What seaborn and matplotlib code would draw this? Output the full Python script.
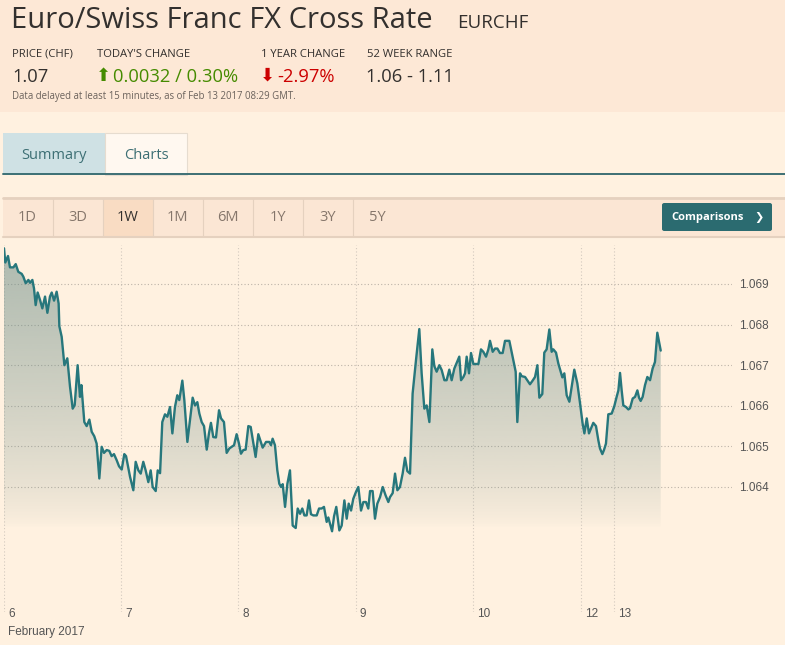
import numpy as np
import matplotlib
matplotlib.use('Agg')
import matplotlib.pyplot as plt
import matplotlib.transforms as mtransforms
from matplotlib.patches import Rectangle, FancyBboxPatch
import seaborn as sns

# ---------------- data ----------------
# x: trading-day offset from 6 Feb 2017 (chart time axis), y: EUR/CHF rate
days = [
    0.000, 0.011, 0.034, 0.051, 0.080, 0.100, 0.122, 0.151, 0.165, 0.185, 0.208, 0.222, 0.242, 0.256,
    0.270, 0.287, 0.307, 0.327, 0.350, 0.370, 0.392, 0.407, 0.427, 0.449, 0.466, 0.472, 0.492, 0.515,
    0.540, 0.563, 0.586, 0.603, 0.628, 0.648, 0.660, 0.685, 0.705, 0.728, 0.748, 0.770, 0.790, 0.813,
    0.833, 0.853, 0.876, 0.898, 0.918, 0.938, 0.961, 0.981, 1.004, 1.026, 1.041, 1.060,
    1.075, 1.103, 1.123, 1.146, 1.166, 1.188, 1.208, 1.231, 1.251, 1.268, 1.294, 1.311, 1.331, 1.350,
    1.373, 1.393, 1.416, 1.436, 1.458, 1.478, 1.495, 1.521, 1.538, 1.564, 1.586, 1.609, 1.629, 1.649,
    1.666, 1.686, 1.706, 1.729, 1.748, 1.765, 1.785, 1.808, 1.834, 1.851, 1.876, 1.899, 1.922, 1.942,
    1.962, 1.984, 2.004, 2.021, 2.041, 2.061, 2.084, 2.104, 2.127, 2.146, 2.169,
    2.206, 2.235, 2.263, 2.277, 2.291, 2.311, 2.331, 2.348, 2.363, 2.377, 2.397, 2.417, 2.439, 2.462,
    2.488, 2.505, 2.525, 2.544, 2.562, 2.581, 2.601, 2.618, 2.638, 2.667, 2.687, 2.709, 2.729, 2.752,
    2.766, 2.780, 2.798, 2.815, 2.834, 2.860, 2.880, 2.903, 2.923, 2.940, 2.960, 2.979, 3.002, 3.022,
    3.045, 3.065, 3.087, 3.107, 3.122, 3.144, 3.164, 3.184, 3.207, 3.230, 3.255, 3.278,
    3.292, 3.315, 3.335, 3.355, 3.377, 3.400, 3.420, 3.440, 3.463, 3.485, 3.514, 3.542, 3.562, 3.585,
    3.605, 3.628, 3.653, 3.670, 3.690, 3.713, 3.733, 3.756, 3.775, 3.798, 3.818, 3.841, 3.861, 3.883,
    3.898, 3.918, 3.932, 3.946, 3.966, 3.983, 4.003, 4.026, 4.046, 4.068, 4.088, 4.111, 4.131, 4.145,
    4.168, 4.188, 4.208, 4.230, 4.253, 4.273, 4.310, 4.338, 4.364, 4.378,
    4.401, 4.415, 4.444, 4.463, 4.486, 4.506, 4.529, 4.549, 4.566, 4.591, 4.608, 4.628, 4.651, 4.671,
    4.685, 4.708, 4.728, 4.748, 4.762, 4.779, 4.799, 4.822, 4.842, 4.864, 4.890, 4.913, 4.935, 4.950,
    4.970, 4.989, 5.006, 5.026, 5.049, 5.069, 5.083, 5.103, 5.117, 5.134, 5.154, 5.183, 5.205, 5.225,
    5.240, 5.254, 5.268, 5.282, 5.305, 5.325, 5.339, 5.362, 5.382, 5.402, 5.416, 5.430, 5.447, 5.467,
    5.487, 5.510, 5.532, 5.552, 5.572, 5.589, 5.601,
]
rates = [
    1.06988, 1.06953, 1.06969, 1.06941, 1.06941, 1.06949, 1.06930, 1.06925, 1.06918, 1.06902, 1.06910, 1.06903, 1.06910, 1.06889,
    1.06848, 1.06879, 1.06861, 1.06840, 1.06869, 1.06829, 1.06869, 1.06879, 1.06859, 1.06881, 1.06852, 1.06796, 1.06770, 1.06700,
    1.06717, 1.06647, 1.06593, 1.06602, 1.06700, 1.06622, 1.06651, 1.06560, 1.06550, 1.06566, 1.06536, 1.06525, 1.06507, 1.06421,
    1.06499, 1.06484, 1.06491, 1.06489, 1.06476, 1.06481, 1.06466, 1.06451, 1.06443, 1.06481, 1.06476, 1.06448,
    1.06425, 1.06392, 1.06462, 1.06441, 1.06433, 1.06462, 1.06441, 1.06412, 1.06441, 1.06400, 1.06390, 1.06441, 1.06434, 1.06560,
    1.06579, 1.06573, 1.06597, 1.06532, 1.06597, 1.06626, 1.06614, 1.06662, 1.06614, 1.06511, 1.06564, 1.06620, 1.06601, 1.06609,
    1.06581, 1.06560, 1.06550, 1.06492, 1.06532, 1.06558, 1.06523, 1.06522, 1.06589, 1.06569, 1.06560, 1.06484, 1.06495, 1.06499,
    1.06503, 1.06530, 1.06507, 1.06482, 1.06491, 1.06492, 1.06550, 1.06548, 1.06507, 1.06474, 1.06530,
    1.06497, 1.06511, 1.06511, 1.06503, 1.06519, 1.06503, 1.06441, 1.06408, 1.06400, 1.06407, 1.06351, 1.06408, 1.06441, 1.06305,
    1.06299, 1.06347, 1.06334, 1.06347, 1.06330, 1.06330, 1.06367, 1.06333, 1.06330, 1.06330, 1.06347, 1.06347, 1.06351, 1.06314,
    1.06325, 1.06310, 1.06291, 1.06328, 1.06351, 1.06293, 1.06305, 1.06367, 1.06322, 1.06359, 1.06342, 1.06371, 1.06388, 1.06400,
    1.06342, 1.06363, 1.06363, 1.06347, 1.06390, 1.06390, 1.06322, 1.06359, 1.06375, 1.06400, 1.06379, 1.06363,
    1.06375, 1.06385, 1.06433, 1.06392, 1.06400, 1.06433, 1.06472, 1.06439, 1.06433, 1.06630, 1.06713, 1.06789, 1.06680, 1.06593,
    1.06601, 1.06560, 1.06739, 1.06698, 1.06684, 1.06700, 1.06688, 1.06663, 1.06663, 1.06689, 1.06663, 1.06692, 1.06706, 1.06721,
    1.06663, 1.06671, 1.06680, 1.06721, 1.06680, 1.06730, 1.06703, 1.06703, 1.06703, 1.06739, 1.06733, 1.06721, 1.06739, 1.06760,
    1.06733, 1.06741, 1.06741, 1.06730, 1.06730, 1.06760, 1.06760, 1.06721, 1.06684, 1.06560,
    1.06680, 1.06673, 1.06671, 1.06663, 1.06653, 1.06661, 1.06671, 1.06700, 1.06620, 1.06629, 1.06731, 1.06739, 1.06788, 1.06733,
    1.06739, 1.06731, 1.06704, 1.06684, 1.06670, 1.06680, 1.06626, 1.06610, 1.06647, 1.06689, 1.06655, 1.06606, 1.06556, 1.06532,
    1.06569, 1.06532, 1.06544, 1.06558, 1.06550, 1.06515, 1.06495, 1.06481, 1.06491, 1.06507, 1.06579, 1.06581, 1.06599, 1.06622,
    1.06638, 1.06681, 1.06638, 1.06601, 1.06597, 1.06591, 1.06594, 1.06618, 1.06622, 1.06638, 1.06620, 1.06612, 1.06622, 1.06651,
    1.06671, 1.06663, 1.06692, 1.06708, 1.06780, 1.06754, 1.06736,
]
day_ticks = [0, 1, 2, 3, 4, 4.921, 5.203]
day_labels = ['6', '7', '8', '9', '10', '12', '13']
y_ticks = [1.064, 1.065, 1.066, 1.067, 1.068, 1.069]
range_labels = ['1D', '3D', '1W', '1M', '6M', '1Y', '3Y', '5Y']
header_labels = ['PRICE (CHF)', "TODAY'S CHANGE", '1 YEAR CHANGE', '52 WEEK RANGE']

# ---------------- styling ----------------
W, H = 785, 645
BG = '#fff1e0'
HEADER_BG = '#fde8d6'
TEXT = '#33302e'
TEAL = '#27777c'

sns.set_style('white')
plt.rcParams['font.family'] = ['Open Sans', 'DejaVu Sans']

fig = plt.figure(figsize=(W / 100, H / 100), dpi=100, facecolor=BG)


def fx(x):
    return x / W


def fy(y):
    return 1 - y / H


def rect(x0, y0, x1, y1, color, z=0, **kw):
    fig.add_artist(Rectangle((fx(x0), fy(y1)), fx(x1) - fx(x0), fy(y0) - fy(y1),
                             transform=fig.transFigure, facecolor=color,
                             edgecolor=kw.pop('ec', 'none'), zorder=z, **kw))


def hline(x0, x1, y, color, lw):
    fig.add_artist(plt.Line2D([fx(x0), fx(x1)], [fy(y), fy(y)], transform=fig.transFigure,
                              color=color, linewidth=lw))


def vline(x, y0, y1, color, lw):
    fig.add_artist(plt.Line2D([fx(x), fx(x)], [fy(y0), fy(y1)], transform=fig.transFigure,
                              color=color, linewidth=lw))


# header block
rect(0, 0, W, 112, HEADER_BG)
fig.text(fx(11), fy(28), 'Euro/Swiss Franc FX Cross Rate', fontsize=21, color=TEXT, va='baseline')
fig.text(fx(457), fy(28), 'EURCHF', fontsize=13.5, color=TEXT, va='baseline')
for lab, x in zip(header_labels, [12, 97, 261, 367]):
    fig.text(fx(x), fy(57), lab, fontsize=8.1, color=TEXT, va='baseline')
fig.text(fx(12), fy(82), '1.07', fontsize=13.2, color=TEXT, va='baseline')
fig.text(fx(96), fy(81), '⬆', fontsize=13, color='#458b00', va='baseline', family=['DejaVu Sans'])
fig.text(fx(113), fy(82), '0.0032 / 0.30%', fontsize=13.2, color='#458b00', va='baseline')
fig.text(fx(260), fy(81), '⬇', fontsize=13, color='#cc0000', va='baseline', family=['DejaVu Sans'])
fig.text(fx(277), fy(82), '-2.97%', fontsize=13.2, color='#cc0000', va='baseline')
fig.text(fx(366), fy(82), '1.06 - 1.11', fontsize=13.2, color=TEXT, va='baseline')
fig.text(fx(12), fy(99), 'Data delayed at least 15 minutes, as of Feb 13 2017 08:29 GMT.',
         fontsize=6.9, color='#6b625c', va='baseline')

# tabs
rect(3, 133, 105, 175, '#cfe1e4')
rect(105, 133, 187, 175, '#fff8f0', ec='#e6dccf', lw=0.8)
hline(3, W, 174.5, '#3d6f74', 1.4)
fig.text(fx(54), fy(156), 'Summary', fontsize=10.5, color='#3d6f74', ha='center', va='center')
fig.text(fx(146), fy(156), 'Charts', fontsize=10.5, color='#3d6f74', ha='center', va='center')

# range bar
rect(3, 197, W, 237, '#fbe6d4')
rect(103, 198, 153, 236, '#f9dcc3')
hline(3, W, 197.5, '#e5d1bf', 2)
hline(3, W, 236.5, '#e5d1bf', 1.5)
for x in [52.5, 103, 153, 203, 253, 303, 353]:
    vline(x, 198, 236, '#e5d1bf', 0.8)
for i, lab in enumerate(range_labels):
    fig.text(fx(27.5 + 50 * i), fy(217), lab, fontsize=10.5, ha='center', va='center',
             color=TEXT if lab == '1W' else '#85766b')
fig.add_artist(FancyBboxPatch((fx(662), fy(231)), fx(772) - fx(662), fy(203) - fy(231),
                              boxstyle='round,pad=0,rounding_size=0.003', transform=fig.transFigure,
                              facecolor='#2b6b70', edgecolor='none'))
fig.text(fx(708), fy(217), 'Comparisons', fontsize=8, color='white', weight='bold',
         ha='center', va='center')
fig.text(fx(759), fy(217), '❯', fontsize=8, color='white', ha='center', va='center',
         family=['DejaVu Sans'])

# ---------------- chart ----------------
PX_PER_UNIT = 40.6 / 0.001  # vertical scale (pixels per rate unit)
Y_TOP = 1.069 + (284 - 245) / PX_PER_UNIT
Y_BOT = 1.069 - (612 - 284) / PX_PER_UNIT
X_MAX = (732 - 4) / 117.25
FILL_BASE = 1.063

ax = fig.add_axes([fx(4), fy(612), fx(732) - fx(4), fy(245) - fy(612)])
ax.set_facecolor('none')

poly = ax.fill_between(days, rates, FILL_BASE, facecolor='none', edgecolor='none')
path = poly.get_paths()[0]
n = 300
t = np.linspace(1, 0, n)
grad = np.zeros((n, 1, 4))
grad[..., 0] = 107 / 255
grad[..., 1] = 140 / 255
grad[..., 2] = 135 / 255
grad[..., 3] = (0.55 * t ** 0.7)[:, None]
im = ax.imshow(grad, extent=[0, max(days), FILL_BASE, Y_TOP], aspect='auto', origin='upper',
               interpolation='bilinear', zorder=2)
im.set_clip_path(path, transform=ax.transData)

sns.lineplot(x=days, y=rates, ax=ax, color=TEAL, linewidth=1.7, zorder=3)

ax.set_xlim(0, X_MAX)
ax.set_ylim(Y_BOT, Y_TOP)
for s in ax.spines.values():
    s.set_visible(False)

ax.set_xticks(day_ticks)
ax.set_yticks(y_ticks)
ax.yaxis.tick_right()
ax.set_yticklabels([f'{v:.3f}' for v in y_ticks])
ax.tick_params(axis='x', length=0, labelbottom=False)
ax.tick_params(axis='y', length=0, pad=5, labelsize=8.5, labelcolor='#555555')
for lbl in ax.get_yticklabels():
    lbl.set_family(['Liberation Sans'])
ax.grid(axis='y', color='#bdb3a8', linestyle=(0, (1, 2)), linewidth=0.8)
ax.grid(axis='x', color='#d3c9be', linestyle=(0, (1, 2)), linewidth=0.8)
ax.set_axisbelow(True)

trans = mtransforms.blended_transform_factory(ax.transData, ax.transAxes)
trans_off = mtransforms.offset_copy(trans, fig=fig, x=4, y=0, units='dots')
for d, lab in zip(day_ticks, day_labels):
    ax.text(d, -2 / 367, lab, transform=trans_off, fontsize=8.5, color='#555555',
            va='center', ha='left', family=['Liberation Sans'])
ax.text(0, -20 / 367, 'February 2017', transform=trans_off, fontsize=8.5, color='#555555',
        va='center', ha='left', family=['Liberation Sans'])

fig.savefig('out.png', dpi=100, facecolor=BG)
